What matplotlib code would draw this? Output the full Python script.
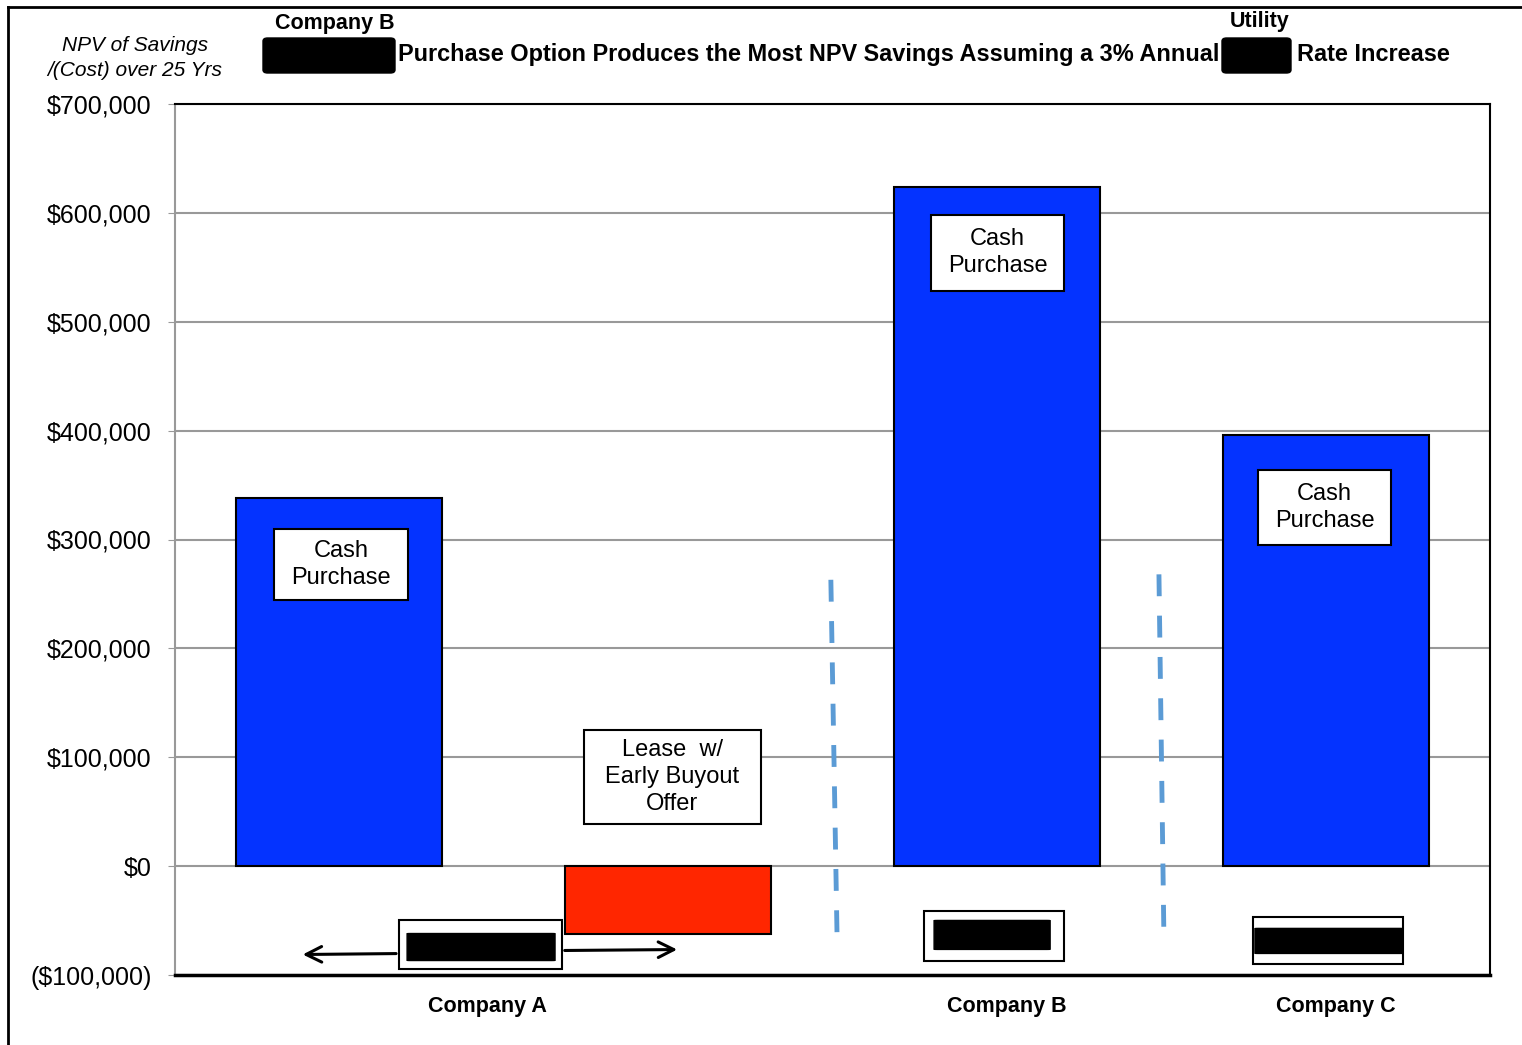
import matplotlib
matplotlib.use("Agg")
import matplotlib.pyplot as plt
from matplotlib.patches import Rectangle, FancyBboxPatch
from matplotlib.lines import Line2D

plt.rcParams['font.family'] = ['Liberation Sans', 'DejaVu Sans']

# ---- data ----
bar_positions = [0, 1, 2, 3]
bar_values = [338000, -62000, 624000, 396000]
bar_colors = ['#0433FF', '#FF2600', '#0433FF', '#0433FF']
bar_labels = ['Cash\nPurchase', 'Lease  w/\nEarly Buyout\nOffer', 'Cash\nPurchase', 'Cash\nPurchase']
company_labels = ['Company A', 'Company B', 'Company C']
company_label_x = [0.45, 2.03, 3.03]
yticks = [-100000, 0, 100000, 200000, 300000, 400000, 500000, 600000, 700000]
ytick_labels = ['($100,000)', '$0', '$100,000', '$200,000', '$300,000',
                '$400,000', '$500,000', '$600,000', '$700,000']

W, H = 1522, 1045
fig = plt.figure(figsize=(W / 100, H / 100), dpi=100)
ax = fig.add_axes([175 / W, 1 - 975 / H, (1490 - 175) / W, (975 - 104) / H])

ax.bar(bar_positions, bar_values, width=0.627, color=bar_colors,
       edgecolor='black', linewidth=1.5, zorder=3)

ax.set_xlim(-0.5, 3.5)
ax.set_ylim(-100000, 700000)
ax.set_yticks(yticks)
ax.set_yticklabels(ytick_labels, fontsize=18)
ax.set_xticks([])
ax.tick_params(axis='y', length=5, color='#999999', pad=12)
ax.grid(axis='y', color='#999999', linewidth=1.5, zorder=0)
ax.set_axisbelow(True)
for s in ['top', 'right']:
    ax.spines[s].set_color('black')
    ax.spines[s].set_linewidth(1.5)
ax.spines['bottom'].set_color('black')
ax.spines['bottom'].set_linewidth(2.5)
ax.spines['left'].set_color('#999999')
ax.spines['left'].set_linewidth(1.5)
for lab in ax.get_yticklabels():
    lab.set_horizontalalignment('right')

# label boxes
label_boxes = [  # (x center, y center, width, height)
    (0.005, 277000, 0.41, 65000),
    (1.013, 81800, 0.54, 87000),
    (2.002, 563500, 0.405, 70000),
    (2.997, 329700, 0.405, 69000),
]
for (cx, cy, w, h), txt in zip(label_boxes, bar_labels):
    ax.add_patch(Rectangle((cx - w / 2, cy - h / 2), w, h, facecolor='white',
                           edgecolor='black', linewidth=1.5, zorder=5))
    ax.text(cx, cy, txt, ha='center', va='center', fontsize=17,
            linespacing=1.3, zorder=6)

# company labels
for x, t in zip(company_label_x, company_labels):
    ax.text(x, -129000, t, ha='center', va='center', fontsize=15.5,
            fontweight='bold', clip_on=False)

# dashed separators
for (x0, y0, x1, y1) in [(1.495, 263000, 1.514, -67000), (2.493, 268000, 2.508, -63000)]:
    ax.plot([x0, x1], [y0, y1], color='#5B9BD5', linewidth=3.5,
            dashes=(4.5, 4), zorder=4)

# redaction boxes
def redacted(ox0, ox1, oy0, oy1, ix0, ix1, iy0, iy1):
    ax.add_patch(Rectangle((ox0, oy1), ox1 - ox0, oy0 - oy1, facecolor='white',
                           edgecolor='black', linewidth=1.5, zorder=5))
    ax.add_patch(FancyBboxPatch((ix0, iy1), ix1 - ix0, iy0 - iy1,
                                boxstyle='round,pad=0,rounding_size=0.01',
                                mutation_aspect=20000,
                                facecolor='black', edgecolor='black', zorder=6))

redacted(0.181, 0.677, -49900, -94900, 0.206, 0.656, -61900, -86700)
redacted(1.778, 2.204, -41600, -86700, 1.809, 2.162, -49900, -76500)
redacted(2.779, 3.235, -47100, -90300, 2.785, 3.235, -57200, -80200)

# arrows
ax.annotate('', xy=(-0.12, -81200), xytext=(0.181, -80300),
            arrowprops=dict(arrowstyle='->', color='black', lw=2.2,
                            mutation_scale=28), zorder=4)
ax.annotate('', xy=(1.036, -76600), xytext=(0.677, -77500),
            arrowprops=dict(arrowstyle='->', color='black', lw=2.2,
                            mutation_scale=28), zorder=4)

# y-axis caption
fig.text(135 / W, 1 - 58 / H, 'NPV of Savings\n/(Cost) over 25 Yrs', ha='center',
         va='center', fontsize=15, style='italic', linespacing=1.45)

# title
fig.text(398 / W, 1 - 55 / H,
         'Purchase Option Produces the Most NPV Savings Assuming a 3% Annual',
         ha='left', va='center', fontsize=16.9, fontweight='bold')
fig.text(1297 / W, 1 - 55 / H, 'Rate Increase', ha='left', va='center',
         fontsize=16.9, fontweight='bold')
fig.text(335 / W, 1 - 23 / H, 'Company B', ha='center', va='center',
         fontsize=15.5, fontweight='bold')
fig.text(1260 / W, 1 - 22 / H, 'Utility', ha='center', va='center',
         fontsize=15.5, fontweight='bold')
for (x0, x1) in [(263, 395), (1222, 1291)]:
    fig.patches.append(FancyBboxPatch((x0 / W, 1 - 73 / H), (x1 - x0) / W, 35 / H,
                                      boxstyle='round,pad=0,rounding_size=0.003',
                                      transform=fig.transFigure, facecolor='black',
                                      edgecolor='black', figure=fig))

# outer border (top and left)
fig.add_artist(Line2D([8 / W, 1.0], [1 - 7 / H, 1 - 7 / H], color='black',
                      linewidth=2, transform=fig.transFigure))
fig.add_artist(Line2D([8 / W, 8 / W], [0, 1 - 7 / H], color='black',
                      linewidth=2, transform=fig.transFigure))

fig.savefig('out.png', dpi=100)
